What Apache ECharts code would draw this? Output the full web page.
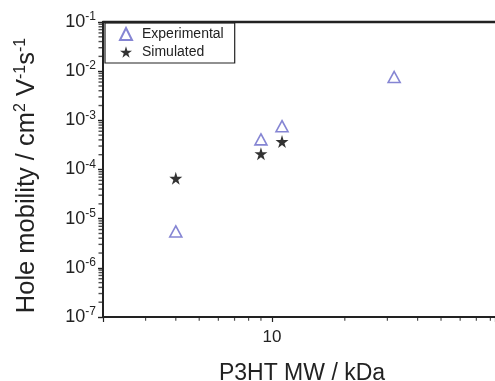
<!DOCTYPE html>
<html>
<head>
<meta charset="utf-8">
<script src="https://cdn.jsdelivr.net/npm/echarts@6/dist/echarts.min.js"></script>
<style>
  html, body { margin: 0; padding: 0; background: #fff; }
  #chart { width: 495px; height: 381px; }
</style>
</head>
<body>
<div id="chart"></div>
<script>
// P3HT molecular weight (kDa) vs hole mobility (cm2 V-1 s-1)
const expMW = [4, 9, 11, 32]
const expMobility = [5.5e-6, 4.1e-4, 7.6e-4, 7.6e-3]
const simMW = [4, 9, 11]
const simMobility = [6.6e-5, 2.1e-4, 3.7e-4]

// axis decoration
const xMinorTicks = [3, 4, 5, 6, 7, 8, 9, 20, 30, 40, 50, 60, 70, 80]
const xTickLabels = [10]
const yDecades = [1e-7, 1e-6, 1e-5, 1e-4, 1e-3, 1e-2]
const minorMantissas = [2, 3, 4, 5, 6, 7, 8, 9]

const font = 'Liberation Sans, Arial, sans-serif'
const ink = '#222'
const blue = '#6767c8'
const starPath = 'path://M50,0 L61,35 L98,35 L68,57 L79,91 L50,70 L21,91 L32,57 L2,35 L39,35 Z'

// visible range of the (cropped) axes
const xMin = 2
const xMax = 83.6
const yMin = 1e-7
const yMax = 1e-1

const yMinorTicks = []
yDecades.forEach(d => {
  minorMantissas.forEach(m => { yMinorTicks.push(m * d) })
})

// small tick marks drawn as scatter symbols sitting on the axes
const tickSeries = (data, horizontal) => ({
  type: 'scatter',
  silent: true,
  clip: false,
  z: 5,
  symbol: 'rect',
  symbolSize: horizontal ? [4, 1.4] : [1.2, 3.5],
  symbolOffset: horizontal ? [-2.5, 0] : [0, 2],
  itemStyle: { color: ink },
  data: data
})

const chart = echarts.init(document.getElementById('chart'), null, { renderer: 'canvas' })

chart.setOption({
  animation: false,
  textStyle: { fontFamily: font },
  grid: { left: 103, top: 22, right: 0, bottom: 64, outerBoundsMode: 'none', containLabel: false },
  legend: {
    orient: 'vertical',
    left: 105,
    top: 23,
    data: ['Experimental', 'Simulated'],
    borderColor: ink,
    borderWidth: 1.2,
    padding: [4, 11, 4, 14],
    itemWidth: 12,
    itemHeight: 12,
    itemGap: 4,
    textStyle: { fontSize: 14, color: ink, fontFamily: font, padding: [0, 0, 0, 5] }
  },
  xAxis: [
    {
      type: 'log',
      logBase: 10,
      min: xMin,
      max: xMax,
      splitNumber: 2,
      name: 'P3HT MW / kDa',
      nameLocation: 'middle',
      nameGap: 45,
      nameTextStyle: { fontSize: 23, color: ink, fontFamily: font, padding: [0, 0, 0, 6] },
      axisLine: { lineStyle: { color: ink, width: 2 } },
      axisTick: { length: 5, lineStyle: { color: ink, width: 1.2 } },
      axisLabel: {
        fontSize: 17, color: ink, margin: 12, fontFamily: font,
        formatter: v => (xTickLabels.some(t => Math.abs(v - t) < 1e-6) ? String(Math.round(v)) : '')
      },
      splitLine: { show: false }
    },
    {
      type: 'log',
      logBase: 10,
      min: xMin,
      max: xMax,
      position: 'top',
      axisLine: { lineStyle: { color: ink, width: 2.4 } },
      axisTick: { show: false },
      axisLabel: { show: false },
      splitLine: { show: false }
    }
  ],
  yAxis: {
    type: 'log',
    logBase: 10,
    min: yMin,
    max: yMax,
    splitNumber: 6,
    name: 'Hole mobility / cm{sup|2} V{sup|-1}s{sup|-1}',
    nameLocation: 'middle',
    nameGap: 62,
    nameRotate: 90,
    nameTextStyle: {
      fontSize: 25.5, color: ink, fontFamily: font, padding: [0, 0, 0, -12],
      rich: { sup: { fontSize: 16, color: ink, fontFamily: font, padding: [0, 0, 12, 0] } }
    },
    axisLine: { lineStyle: { color: ink, width: 2 } },
    axisTick: { length: 5, lineStyle: { color: ink, width: 1.4 } },
    axisLabel: {
      fontSize: 18, color: ink, margin: 7, fontFamily: font,
      formatter: v => '10{sup|' + Math.round(Math.log10(v)) + '}',
      rich: { sup: { fontSize: 12, color: ink, fontFamily: font, padding: [0, 0, 10, 0] } }
    },
    splitLine: { show: false }
  },
  series: [
    {
      name: 'Experimental',
      type: 'scatter',
      symbol: 'triangle',
      symbolSize: [12, 11],
      z: 10,
      itemStyle: { color: 'rgba(255,255,255,0)', borderColor: blue, borderWidth: 1.6 },
      data: expMW.map((x, i) => [x, expMobility[i]])
    },
    {
      name: 'Simulated',
      type: 'scatter',
      symbol: starPath,
      symbolSize: 13,
      z: 10,
      itemStyle: { color: '#000' },
      data: simMW.map((x, i) => [x, simMobility[i]])
    },
    tickSeries(xMinorTicks.map(x => [x, yMin]), false),
    tickSeries(yMinorTicks.map(y => [xMin, y]), true)
  ]
})
</script>
</body>
</html>
